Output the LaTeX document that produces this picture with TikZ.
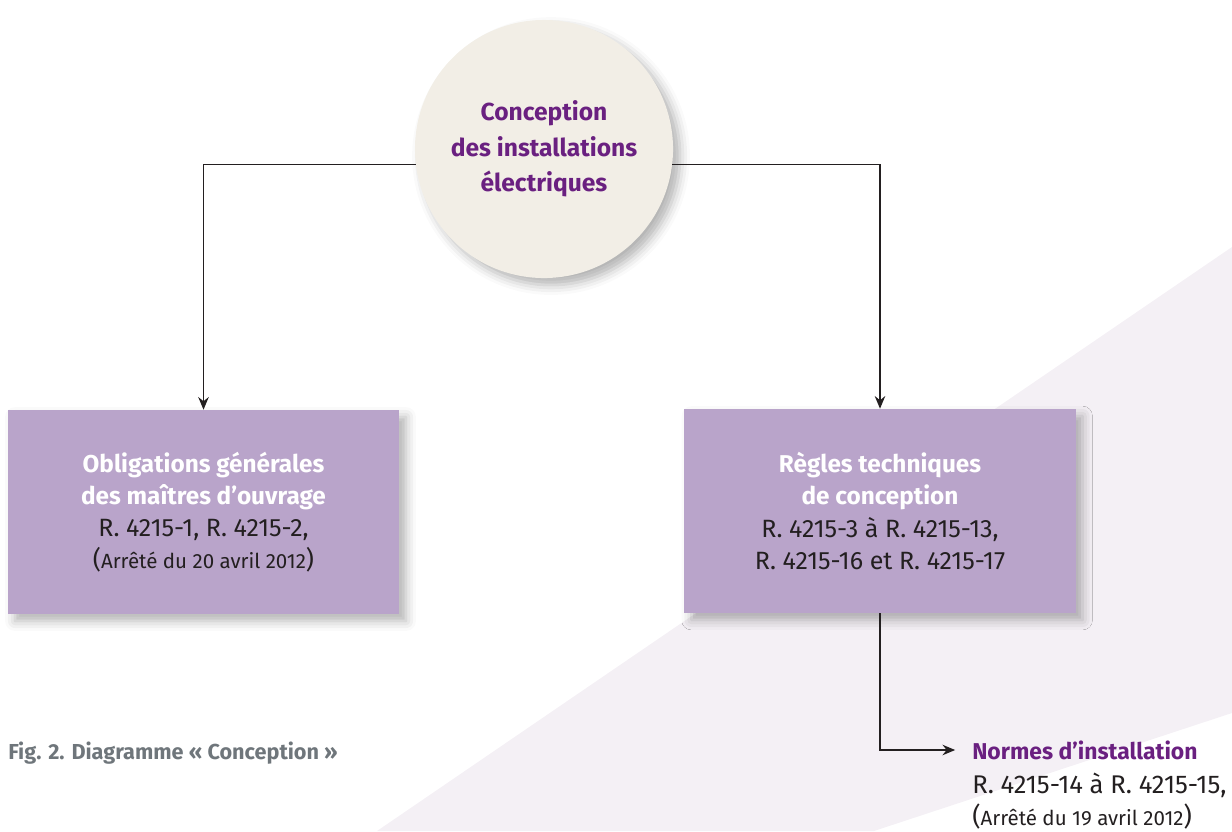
\documentclass[tikz,border=0pt]{standalone}
\usepackage{fontspec}
\setmainfont{Fira Sans}
\usepackage{tikz}
\usetikzlibrary{arrows.meta,positioning,shadows.blur}
\definecolor{conceptpurple}{RGB}{106,32,128}
\definecolor{boxmauve}{RGB}{185,164,202}
\definecolor{circlecream}{RGB}{242,238,230}
\definecolor{bgmauve}{RGB}{244,240,245}
\definecolor{captiongray}{RGB}{111,118,123}
\definecolor{refdark}{RGB}{35,31,32}

\tikzset{
  softshadow/.style={blur shadow={shadow xshift=5pt, shadow yshift=-5pt,
      shadow blur radius=7pt, shadow opacity=30, shadow blur extra rounding=0pt}},
  rulebox/.style={rectangle, fill=boxmauve, softshadow, minimum width=9.775cm,
      minimum height=5.1cm, align=center, text=refdark,
      font=\fontsize{17.8}{22.8}\selectfont},
  link/.style={draw=refdark, line width=0.85pt},
  arrowlink/.style={link, -{Stealth[length=9pt, width=7.5pt, inset=3pt]}},
}
\newcommand{\boxtitle}[1]{{\bfseries\fontsize{17.3}{22.8}\selectfont\color{white}#1}}
\newcommand{\smallref}[1]{{\fontsize{14.6}{22.8}\selectfont #1}}

\begin{document}
\begin{tikzpicture}[x=0.025cm, y=-0.025cm]
  \useasboundingbox (0,0) rectangle (1232,831);
  % Background band
  \fill[bgmauve] (377,831) -- (1232,247) -- (1232,713) -- (874,831) -- cycle;

  % Circle at top
  \node[circle, fill=circlecream, softshadow, minimum size=6.45cm,
        align=center, text=conceptpurple, font=\bfseries\fontsize{17.5}{25.2}\selectfont]
        (conception) at (544,149)
        {Conception\\des installations\\électriques};

  % Boxes
  \node[rulebox] (obligations) at (203.5,512)
        {\boxtitle{Obligations générales}\\\boxtitle{des maîtres d’ouvrage}\\
         R. 4215-1, R. 4215-2,\\(\smallref{Arrêté du 20 avril 2012})};
  \node[rulebox] (regles) at (880,511)
        {\boxtitle{Règles techniques}\\\boxtitle{de conception}\\
         R. 4215-3 à R. 4215-13,\\R. 4215-16 et R. 4215-17};

  % Normes, below right
  \node[anchor=west, inner sep=0pt, text=conceptpurple,
        font=\bfseries\fontsize{16.3}{22}\selectfont]
        (normes) at (972,750) {Normes d’installation};
  \node[below right=9pt and 0pt of normes.south west, inner sep=0pt, align=left,
        text=refdark, font=\fontsize{18.2}{22.6}\selectfont]
        (normesref) {R. 4215-14 à R. 4215-15,\\(\smallref{Arrêté du 19 avril 2012})};

  % Lines
  \draw[arrowlink] (conception.187.6) -| (obligations.north);
  \draw[arrowlink] (conception.-7.6) -| (regles.north);
  \draw[arrowlink, shorten >=12pt] (regles.south) |- (normes.west);

  % Caption
  \node[anchor=west, inner sep=0pt, text=captiongray,
        font=\bfseries\fontsize{15.4}{18}\selectfont]
        (caption) at (8,753) {Fig. 2. Diagramme « Conception »};
\end{tikzpicture}
\end{document}
